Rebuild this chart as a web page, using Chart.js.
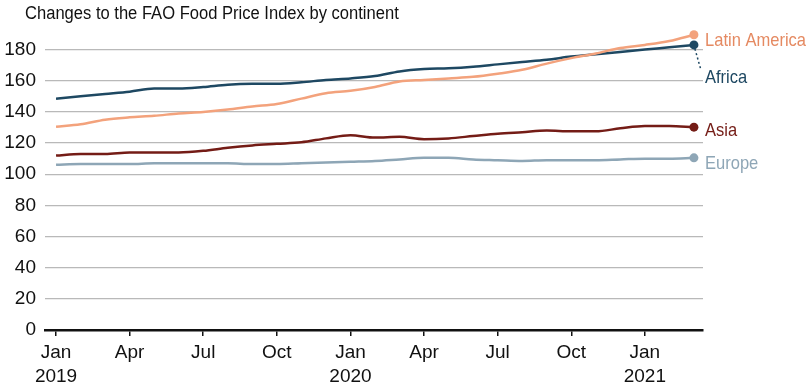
<!DOCTYPE html>
<html>
<head>
<meta charset="utf-8">
<script src="https://cdn.jsdelivr.net/npm/chart.js@4.4.1/dist/chart.umd.min.js"></script>
<style>
  html, body { margin: 0; padding: 0; background: #fff; }
  #wrap { position: relative; width: 808px; height: 388px; }
</style>
</head>
<body>
<div id="wrap"><canvas id="fpiChart" width="808" height="388"></canvas></div>
<script>
// Monthly values, Jan 2019 .. Mar 2021 (index 0..26)
const months = ['Jan','Feb','Mar','Apr','May','Jun','Jul','Aug','Sep','Oct','Nov','Dec'];
const startYear = 2019;
const tickMonths = [0, 3, 6, 9, 12, 15, 18, 21, 24];
const yTicks = [0, 20, 40, 60, 80, 100, 120, 140, 160, 180];

const latinAmerica = [130.5, 132, 135, 136.5, 137.5, 139, 140, 141.5, 143.5, 145, 148.5, 152, 153.5,
  156, 159.5, 160.5, 161.5, 162.5, 164.5, 167, 171, 174.5, 177.5, 181, 183, 185.5, 189.5];
const africa = [148.5, 150, 151.5, 153, 155, 155, 156, 157.5, 158, 158, 159, 160.5, 161.5,
  163, 166, 167.5, 168, 169, 170.5, 172, 173.5, 175.5, 177, 178.5, 180, 181.5, 183];
const asia = [112, 113, 113, 114, 114, 114, 115, 117, 118.5, 119.5, 120.5, 123, 125,
  123.5, 124, 122.5, 123, 124.5, 126, 127, 128, 127.5, 127.5, 129.5, 131, 131, 130.2];
const europe = [106, 106.5, 106.5, 106.5, 107, 107, 107, 107, 106.5, 106.5, 107, 107.5, 108,
  108.5, 109.5, 110.5, 110.5, 109.5, 109, 108.5, 109, 109, 109, 109.5, 110, 110, 110.5];

const seriesNames = ['Latin America', 'Africa', 'Asia', 'Europe'];
const seriesData = [latinAmerica, africa, asia, europe];
const lineColors = ['#f3a27c', '#1e4862', '#741c16', '#8ea6b6'];
const textColors = ['#e58a62', '#1e4862', '#741c16', '#8ea6b6'];
// label offset (px) from the end point
const labelDy = [6, 33, 4, 6];

const last = latinAmerica.length - 1;

const datasets = seriesData.map(function(vals, i) {
    return {
        label: seriesNames[i],
        data: vals.map(function(v, m) { return { x: m, y: v }; }),
        borderColor: lineColors[i],
        backgroundColor: lineColors[i],
        borderWidth: 2.5,
        cubicInterpolationMode: 'monotone',
        clip: false,
        pointRadius: vals.map(function(v, m) { return m === last ? 4.5 : 0; }),
        pointBorderWidth: 0,
        pointHoverRadius: 0
    };
});

// text squeezed horizontally to look like the condensed face of the original
function narrowText(ctx, text, x, y, squeeze) {
    ctx.save();
    ctx.translate(x, y);
    ctx.scale(squeeze, 1);
    ctx.fillText(text, 0, 0);
    ctx.restore();
}

// draws the title and the end-of-line labels
const endLabels = {
    id: 'endLabels',
    afterDatasetsDraw(chart) {
        const ctx = chart.ctx;
        ctx.save();
        ctx.font = '18px "Liberation Sans", sans-serif';
        ctx.fillStyle = '#111';
        ctx.textBaseline = 'middle';
        ctx.textAlign = 'left';
        narrowText(ctx, 'Changes to the FAO Food Price Index by continent', 25, 14, 0.92);

        ctx.font = '19px "Liberation Sans", sans-serif';
        chart.data.datasets.forEach(function(ds, i) {
            const pt = chart.getDatasetMeta(i).data[last];
            ctx.fillStyle = textColors[i];
            narrowText(ctx, ds.label, 705, pt.y + labelDy[i], 0.87);
            if (ds.label === 'Africa') {
                ctx.strokeStyle = lineColors[i];
                ctx.lineWidth = 1.5;
                ctx.setLineDash([2, 2.5]);
                ctx.beginPath();
                ctx.moveTo(pt.x + 1, pt.y + 4);
                ctx.lineTo(pt.x + 7, pt.y + labelDy[i] - 8);
                ctx.stroke();
                ctx.setLineDash([]);
            }
        });
        ctx.restore();
    }
};

new Chart(document.getElementById('fpiChart').getContext('2d'), {
    type: 'line',
    data: { datasets: datasets },
    options: {
        responsive: false,
        animation: false,
        layout: { padding: { top: 34, right: 105, bottom: 0, left: 0 } },
        plugins: {
            legend: { display: false },
            title: { display: false },
            tooltip: { enabled: false }
        },
        scales: {
            x: {
                type: 'linear',
                min: -0.45,
                max: 26.37,
                afterBuildTicks: function(scale) {
                    scale.ticks = tickMonths.map(function(v) { return { value: v }; });
                },
                afterFit: function(scale) { scale.height = 58; },
                ticks: {
                    color: '#111',
                    font: { family: '"Liberation Sans", sans-serif', size: 19, lineHeight: 1.25 },
                    padding: 5,
                    maxRotation: 0,
                    autoSkip: false,
                    callback: function(v) {
                        const m = months[v % 12];
                        return (v % 12 === 0) ? [m, String(startYear + v / 12)] : m;
                    }
                },
                grid: {
                    drawOnChartArea: false,
                    drawTicks: true,
                    tickLength: 6,
                    color: '#111',
                    lineWidth: 1.5
                },
                border: { color: '#111', width: 2.5 }
            },
            y: {
                min: 0,
                max: 190,
                afterBuildTicks: function(scale) {
                    scale.ticks = yTicks.map(function(v) { return { value: v }; });
                },
                afterFit: function(scale) { scale.width = 45; },
                ticks: {
                    color: '#111',
                    font: { family: '"Liberation Sans", sans-serif', size: 19 },
                    padding: 9
                },
                grid: {
                    drawTicks: false,
                    color: function(c) { return c.tick && c.tick.value === 0 ? 'rgba(0,0,0,0)' : '#b9b9b9'; },
                    lineWidth: 1.2
                },
                border: { display: false }
            }
        }
    },
    plugins: [endLabels]
});
</script>
</body>
</html>
